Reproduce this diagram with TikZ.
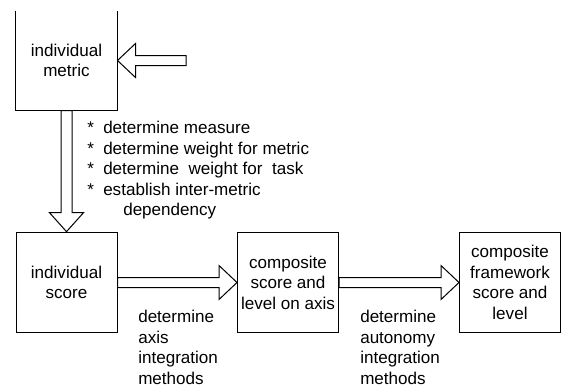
\documentclass[tikz,border=0pt]{standalone}
\usepackage{fontspec}
\setmainfont{Liberation Sans}
\usetikzlibrary{calc}
\tikzset{
  txt/.style={font=\fontsize{12.8}{15.4}\selectfont},
  box/.style={txt, draw, line width=0.75pt, minimum width=75.75pt, minimum height=75.5pt, inner sep=0pt, align=center},
  note/.style={txt, inner sep=0pt, align=left, anchor=north west},
  fat/.style={draw, line width=0.75pt, fill=white, line join=miter},
}
% block arrows, #1 = tail, #2 = tip
\newcommand{\fatright}[2]{\draw[fat] ($(#1)+(0,-5)$) -- ($(#2)+(-18,-5)$) -- ($(#2)+(-18,-17)$) -- (#2) -- ($(#2)+(-18,17)$) -- ($(#2)+(-18,5)$) -- ($(#1)+(0,5)$) -- cycle;}
\newcommand{\fatleft}[2]{\draw[fat] ($(#1)+(0,-5)$) -- ($(#2)+(18,-5)$) -- ($(#2)+(18,-17)$) -- (#2) -- ($(#2)+(18,17)$) -- ($(#2)+(18,5)$) -- ($(#1)+(0,5)$) -- cycle;}
\newcommand{\fatdown}[2]{\draw[fat] ($(#1)+(-5.5,0)$) -- ($(#2)+(-5.5,-19)$) -- ($(#2)+(-17,-19)$) -- (#2) -- ($(#2)+(17,-19)$) -- ($(#2)+(5.5,-19)$) -- ($(#1)+(5.5,0)$) -- cycle;}
\begin{document}
\begin{tikzpicture}[x=0.75pt, y=-0.75pt]
\useasboundingbox (0,0) rectangle (561,390);
\node[box, draw=none, minimum height=74.25pt] (metric) at (66.5,60.5){individual\\metric};
\draw[line width=0.75pt](metric.north west) -- (metric.south west) -- (metric.south east) -- (metric.north east);
\node[box] (score) at (66.5,282.5){individual\\score};
\node[box] (axis) at (288,282.5){composite\\score and\\level on axis};
\node[box] (frame) at (510,282.5){composite\\framework\\score and\\level};
\coordinate (input) at (186,60.5);
\fatleft{input}{metric.east}
\fatdown{metric.south}{score.north}
\fatright{score.east}{axis.west}
\fatright{axis.east}{frame.west}
\node[note] (steps) at (87,121){\makebox[12pt][l]{*}determine measure\\
\makebox[12pt][l]{*}determine weight for metric\\
\makebox[12pt][l]{*}determine~ weight for~ task\\
\makebox[12pt][l]{*}establish inter-metric\\
\hspace{27pt}dependency};
\node[note] (axisnote) at (138,310){determine\\axis\\integration\\methods};
\node[note] (autonote) at (360,310){determine\\autonomy\\integration\\methods};
\end{tikzpicture}
\end{document}
